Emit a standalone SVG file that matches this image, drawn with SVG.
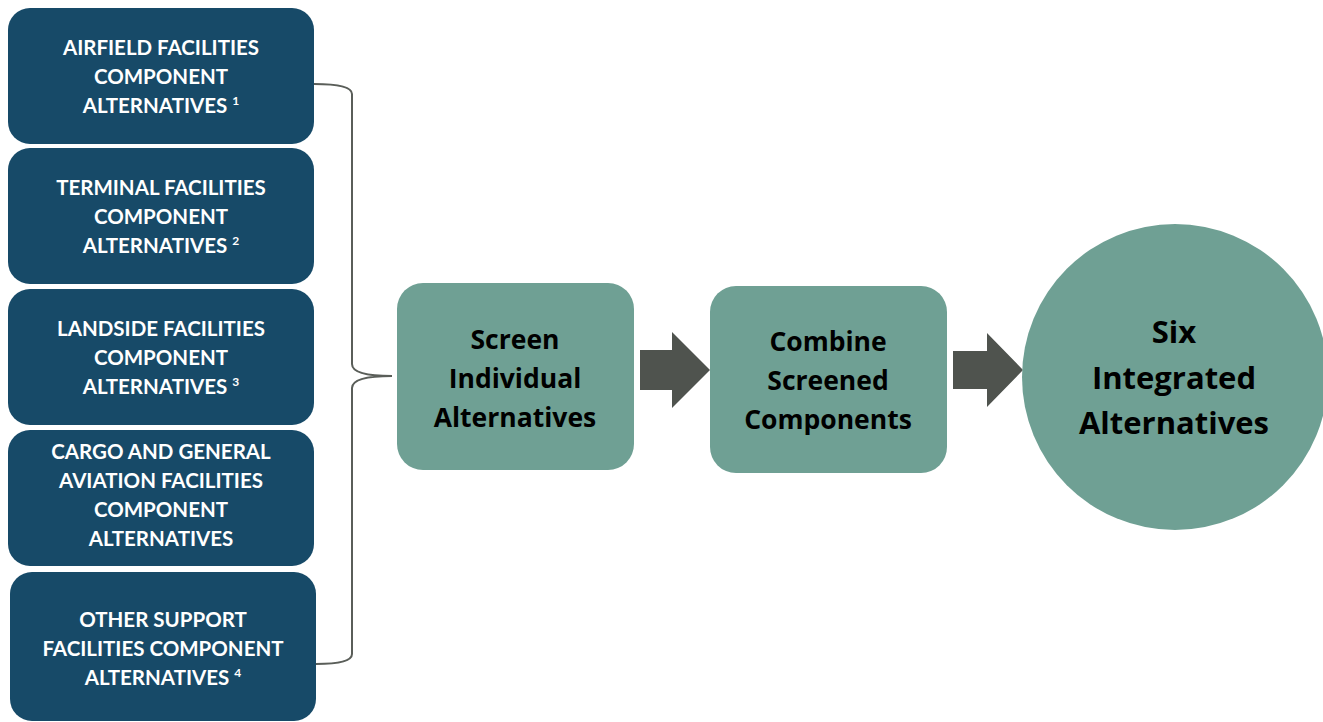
<svg xmlns="http://www.w3.org/2000/svg" width="1323" height="722" viewBox="0 0 1323 722">
<style>
.lbox{fill:#174A68}
.mbox{fill:#6FA094}
.lt{font-family:Lato,"Liberation Sans",sans-serif;font-weight:bold;font-size:20.5px;fill:#ffffff;text-anchor:middle}
.sup{font-size:12px}
.mt{font-family:"Open Sans","Liberation Sans",sans-serif;font-weight:bold;font-size:26.5px;fill:#000000;text-anchor:middle}
.ct{font-family:"Open Sans","Liberation Sans",sans-serif;font-weight:bold;font-size:31px;fill:#000000;text-anchor:middle}
.arr{fill:#4F534E}
.br{fill:none;stroke:#5A5E59;stroke-width:2}
</style>
<rect width="1323" height="722" fill="#ffffff"/>
<g id="airfield">
<rect class="lbox" x="8" y="8" width="306" height="136" rx="22"/>
<text class="lt" x="161" y="55">AIRFIELD FACILITIES</text>
<text class="lt" x="161" y="84">COMPONENT</text>
<text class="lt" x="161" y="113">ALTERNATIVES <tspan class="sup" dy="-8">1</tspan></text>
</g>
<g id="terminal">
<rect class="lbox" x="8" y="148" width="306" height="136" rx="22"/>
<text class="lt" x="161" y="195">TERMINAL FACILITIES</text>
<text class="lt" x="161" y="224">COMPONENT</text>
<text class="lt" x="161" y="253">ALTERNATIVES <tspan class="sup" dy="-8">2</tspan></text>
</g>
<g id="landside">
<rect class="lbox" x="8" y="289" width="306" height="136" rx="22"/>
<text class="lt" x="161" y="336">LANDSIDE FACILITIES</text>
<text class="lt" x="161" y="365">COMPONENT</text>
<text class="lt" x="161" y="394">ALTERNATIVES <tspan class="sup" dy="-8">3</tspan></text>
</g>
<g id="cargo">
<rect class="lbox" x="8" y="430" width="306" height="136" rx="22"/>
<text class="lt" x="161" y="459">CARGO AND GENERAL</text>
<text class="lt" x="161" y="488">AVIATION FACILITIES</text>
<text class="lt" x="161" y="517">COMPONENT</text>
<text class="lt" x="161" y="546">ALTERNATIVES</text>
</g>
<g id="other">
<rect class="lbox" x="10" y="572" width="306" height="149" rx="22"/>
<text class="lt" x="163" y="627">OTHER SUPPORT</text>
<text class="lt" x="163" y="656">FACILITIES COMPONENT</text>
<text class="lt" x="163" y="685">ALTERNATIVES <tspan class="sup" dy="-8">4</tspan></text>
</g>
<g id="connectors">
<path class="br" d="M314,84 Q352,84 352,94 L352,364 Q352,376 392,376 Q352,376 352,388 L352,654 Q352,664 316,664"/>
<polygon class="arr" points="640,350 672,350 672,332 710,370 672,408 672,390 640,390"/>
<polygon class="arr" points="953,351 987,351 987,333 1023,370 987,407 987,389 953,389"/>
</g>
<g id="screen">
<rect class="mbox" x="397" y="283" width="237" height="187" rx="26"/>
<text class="mt" x="515" y="349">Screen</text>
<text class="mt" x="515" y="388">Individual</text>
<text class="mt" x="515" y="427">Alternatives</text>
</g>
<g id="combine">
<rect class="mbox" x="710" y="286" width="237" height="187" rx="26"/>
<text class="mt" x="828" y="351">Combine</text>
<text class="mt" x="828" y="390">Screened</text>
<text class="mt" x="828" y="429">Components</text>
</g>
<g id="six">
<circle class="mbox" cx="1175" cy="377" r="153"/>
<text class="ct" x="1174" y="343">Six</text>
<text class="ct" x="1174" y="389">Integrated</text>
<text class="ct" x="1174" y="434">Alternatives</text>
</g>
</svg>
